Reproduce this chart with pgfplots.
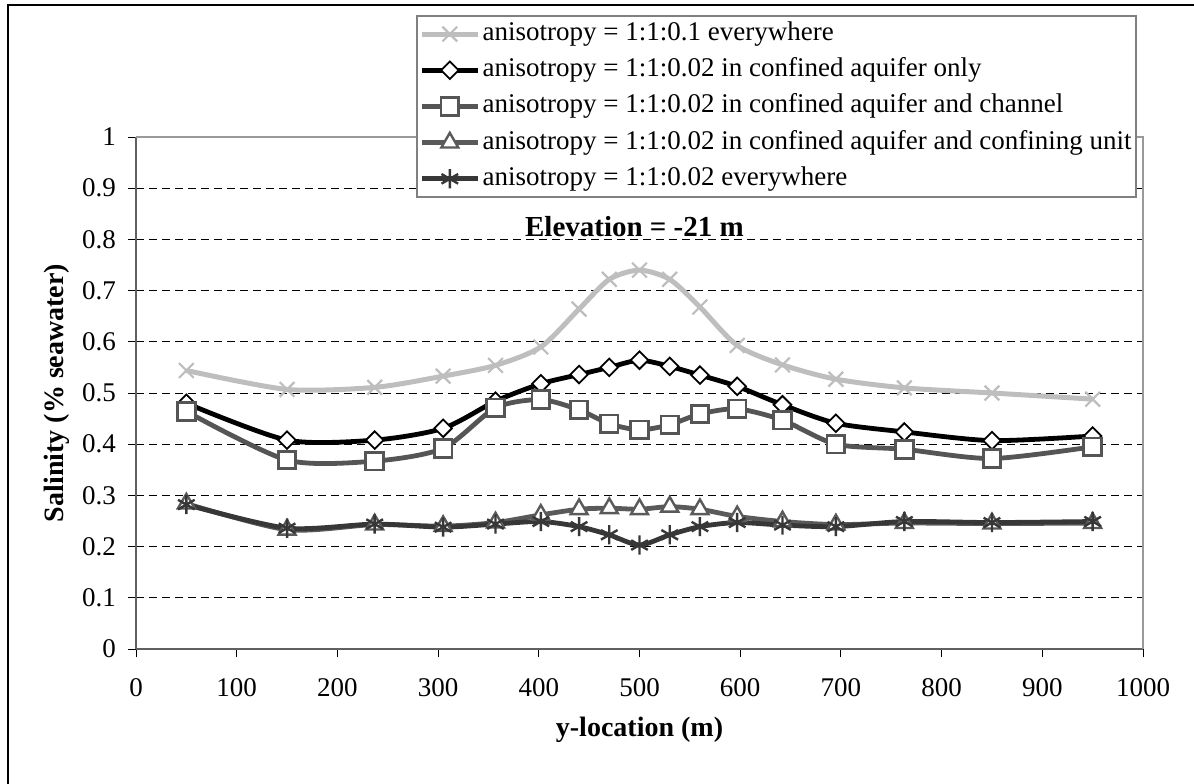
\documentclass[border=0pt]{standalone}
\usepackage{fontspec}
\setmainfont{Liberation Serif}
\usepackage{pgfplots}
\pgfplotsset{compat=1.18}
\definecolor{sA}{RGB}{190,190,190}
\definecolor{sC}{RGB}{85,85,85}
\definecolor{sD}{RGB}{90,90,90}
\definecolor{sE}{RGB}{55,55,55}
\begin{document}
\begin{tikzpicture}[font=\fontsize{14pt}{16.8pt}\selectfont]
\path[use as bounding box] (0,0) rectangle (597pt,391.5pt);
\draw[line width=1pt,black] (4pt,-2pt) -- (4pt,389.2pt) -- (600pt,389.2pt);
\begin{axis}[
  at={(68pt,67pt)}, anchor=south west,
  scale only axis, width=503.5pt, height=256pt,
  xmin=0, xmax=1000, ymin=0, ymax=1,
  xtick={0,100,...,1000}, ytick={0,0.1,...,1},
  yticklabels={0,0.1,0.2,0.3,0.4,0.5,0.6,0.7,0.8,0.9,1},
  /pgf/number format/assume math mode=true,
  /pgf/number format/1000 sep={},
  tick label style={font=\fontsize{13.5pt}{16pt}\selectfont},
  xticklabel style={yshift=-7pt},
  yticklabel style={xshift=-2.5pt},
  tick align=outside, tick pos=left, major tick length=4pt,
  tick style={black, line width=0.5pt},
  axis line style={draw=none},
  ymajorgrids, grid style={black, line width=0.5pt, dash pattern=on 4pt off 2.5pt},
  xlabel={\textbf{y-location (m)}}, ylabel={\textbf{Salinity (\% seawater)}},
  label style={font=\fontsize{14pt}{16.8pt}\selectfont},
  xlabel style={at={(axis description cs:0.5,-0.158)}, anchor=center},
  ylabel style={at={(axis description cs:-0.0785,0.5)}, anchor=center},
  clip=false,
  legend cell align=left,
  legend style={at={(0.994,1.238)}, anchor=north east, draw=gray, line width=1pt,
    font=\fontsize{13.5pt}{16pt}\selectfont, row sep=2.2pt, inner sep=1pt,
    nodes={inner sep=1.2pt, text height=10pt, text depth=3.5pt}},
  legend image code/.code={\draw[#1,mark repeat=2,mark phase=2] plot coordinates {(0pt,0pt) (14pt,0pt) (28pt,0pt)};},
]
\draw[gray!75!black, line width=1pt] (rel axis cs:0,0) -- (rel axis cs:0,1);
\draw[gray!75!black, line width=1pt] (rel axis cs:0,0) -- (rel axis cs:1,0);
\draw[gray!80, line width=1pt] (rel axis cs:0,1) -- (rel axis cs:1,1) -- (rel axis cs:1,0);
\addplot[sA, line width=2.5pt, smooth, tension=0.45, mark=x, mark size=5.2pt, mark options={line width=1.1pt, sA, solid}] coordinates {
(50,0.544) (150,0.507) (237,0.511) (305,0.533) (357,0.554) (402,0.590) (440,0.664) (470,0.722) (500,0.740) (530,0.722) (560,0.668) (597,0.593) (642,0.555) (695,0.527) (763,0.510) (850,0.500) (950,0.488)};
\addlegendentry{anisotropy = 1:1:0.1 everywhere}
\addplot[black, line width=2.4pt, smooth, tension=0.45, mark=square*, mark size=3.1pt, mark options={rotate=45, line width=0.9pt, fill=white, draw=black, solid}] coordinates {
(50,0.480) (150,0.408) (237,0.408) (305,0.431) (357,0.484) (402,0.518) (440,0.536) (470,0.550) (500,0.564) (530,0.552) (560,0.535) (597,0.513) (642,0.477) (695,0.441) (763,0.424) (850,0.407) (950,0.416)};
\addlegendentry{anisotropy = 1:1:0.02 in confined aquifer only}
\addplot[sC, line width=2.4pt, smooth, tension=0.45, mark=square*, mark size=4.4pt, mark options={line width=1.4pt, fill=white, draw=sC, solid}] coordinates {
(50,0.464) (150,0.369) (237,0.367) (305,0.392) (357,0.471) (402,0.487) (440,0.467) (470,0.440) (500,0.428) (530,0.438) (560,0.459) (597,0.469) (642,0.447) (695,0.400) (763,0.390) (850,0.372) (950,0.395)};
\addlegendentry{anisotropy = 1:1:0.02 in confined aquifer and channel}
\addplot[sD, line width=2.4pt, smooth, tension=0.45, mark=triangle*, mark size=4.9pt, mark options={line width=1.2pt, fill=white, draw=sD, solid}] coordinates {
(50,0.284) (150,0.233) (237,0.243) (305,0.240) (357,0.247) (402,0.262) (440,0.273) (470,0.275) (500,0.273) (530,0.278) (560,0.273) (597,0.259) (642,0.249) (695,0.243) (763,0.246) (850,0.245) (950,0.246)};
\addlegendentry{anisotropy = 1:1:0.02 in confined aquifer and confining unit}
\addplot[sE, line width=2.4pt, smooth, tension=0.45, mark=asterisk, mark size=4.8pt, mark options={line width=1.2pt, sE, solid}] coordinates {
(50,0.282) (150,0.236) (237,0.244) (305,0.238) (357,0.244) (402,0.249) (440,0.239) (470,0.223) (500,0.203) (530,0.223) (560,0.239) (597,0.247) (642,0.242) (695,0.239) (763,0.249) (850,0.247) (950,0.249)};
\addlegendentry{anisotropy = 1:1:0.02 everywhere}
\node[font=\fontsize{14.5pt}{17pt}\selectfont\bfseries] at (axis cs:495,0.826) {Elevation = -21 m};
\end{axis}
\end{tikzpicture}
\end{document}
